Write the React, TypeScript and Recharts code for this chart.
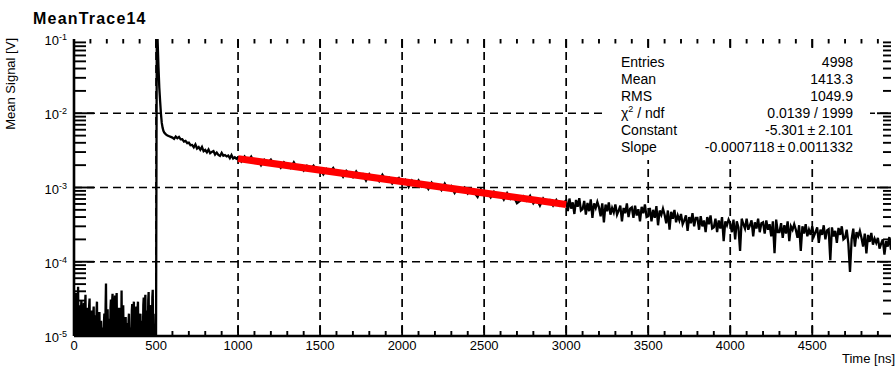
import React from 'react';
import { LineChart, Line, XAxis, YAxis, ReferenceLine } from 'recharts';

const FONT = '"Liberation Sans", Arial, Helvetica, sans-serif';
const W = 895;
const H = 370;

// ---- axes ----
const X_MAX = 4980;
const X_MAJOR = [0, 500, 1000, 1500, 2000, 2500, 3000, 3500, 4000, 4500];
const X_MINOR_STEP = 100;
const Y_DECADES = [1e-5, 1e-4, 1e-3, 1e-2, 1e-1];
const Y_EXPONENTS = ['-5', '-4', '-3', '-2', '-1'];
const Y_MANTISSAS = [1, 2, 3, 4, 5, 6, 7, 8, 9];

// ---- histogram "MeanTrace14" (values in V) ----
// pre-trigger noise, bins every 5 ns from 0 ns
const PRE_T0 = 0;
const PRE_DT = 5;
const PRE_V = [
  4.2e-5, 0.9e-5, 3.8e-5, 2.2e-5, 0.9e-5, 4.6e-5, 1.5e-5, 2.6e-5, 0.9e-5, 3.0e-5,
  1.8e-5, 0.9e-5, 2.8e-5, 0.9e-5, 3.6e-5, 2.0e-5, 0.9e-5, 2.4e-5, 1.2e-5, 3.2e-5,
  0.9e-5, 2.2e-5, 1.4e-5, 0.9e-5, 2.5e-5, 0.9e-5, 1.9e-5, 0.9e-5, 2.9e-5, 1.6e-5,
  0.9e-5, 2.1e-5, 0.9e-5, 1.6e-5, 0.9e-5, 1.3e-5, 0.9e-5, 2.0e-5, 0.9e-5, 5.1e-5,
  1.2e-5, 2.3e-5, 0.9e-5, 1.7e-5, 0.9e-5, 3.1e-5, 0.9e-5, 3.7e-5, 1.9e-5, 0.9e-5,
  3.5e-5, 0.9e-5, 3.8e-5, 1.4e-5, 0.9e-5, 2.4e-5, 0.9e-5, 1.7e-5, 4.1e-5, 0.9e-5,
  2.6e-5, 1.1e-5, 0.9e-5, 1.8e-5, 0.9e-5, 1.5e-5, 0.9e-5, 2.0e-5, 0.9e-5, 1.3e-5,
  0.9e-5, 2.7e-5, 0.9e-5, 2.9e-5, 1.5e-5, 0.9e-5, 2.5e-5, 0.9e-5, 2.9e-5, 1.2e-5,
  0.9e-5, 2.0e-5, 0.9e-5, 1.6e-5, 0.9e-5, 3.3e-5, 1.2e-5, 3.6e-5, 0.9e-5, 2.2e-5,
  0.9e-5, 3.9e-5, 1.4e-5, 0.9e-5, 2.6e-5, 0.9e-5, 4.2e-5, 2.0e-5, 0.9e-5, 1.2e-5,
];
// interleaved pre-trigger bins (offset 2.5 ns)
const PRE2_T0 = 2.5;
const PRE2_DT = 5;
const PRE2_V = [
  0.9e-5, 3.1e-5, 0.9e-5, 0.9e-5, 2.8e-5, 0.9e-5, 2.0e-5, 0.9e-5, 2.2e-5, 0.9e-5,
  0.9e-5, 2.1e-5, 0.9e-5, 2.5e-5, 0.9e-5, 0.9e-5, 1.9e-5, 0.9e-5, 2.6e-5, 0.9e-5,
  1.7e-5, 0.9e-5, 0.9e-5, 2.0e-5, 0.9e-5, 1.5e-5, 0.9e-5, 2.2e-5, 0.9e-5, 0.9e-5,
  1.8e-5, 0.9e-5, 1.2e-5, 0.9e-5, 1.1e-5, 0.9e-5, 1.5e-5, 0.9e-5, 2.4e-5, 0.9e-5,
  1.9e-5, 0.9e-5, 1.3e-5, 0.9e-5, 2.4e-5, 0.9e-5, 2.9e-5, 0.9e-5, 0.9e-5, 2.6e-5,
  0.9e-5, 3.0e-5, 0.9e-5, 0.9e-5, 1.9e-5, 0.9e-5, 1.3e-5, 0.9e-5, 0.9e-5, 2.1e-5,
  0.9e-5, 0.9e-5, 1.4e-5, 0.9e-5, 1.2e-5, 0.9e-5, 1.6e-5, 0.9e-5, 1.1e-5, 0.9e-5,
  2.2e-5, 0.9e-5, 2.3e-5, 0.9e-5, 0.9e-5, 2.0e-5, 0.9e-5, 2.3e-5, 0.9e-5, 0.9e-5,
  1.5e-5, 0.9e-5, 1.3e-5, 0.9e-5, 2.6e-5, 0.9e-5, 2.8e-5, 0.9e-5, 1.7e-5, 0.9e-5,
  3.0e-5, 0.9e-5, 0.9e-5, 2.1e-5, 0.9e-5, 3.3e-5, 0.9e-5, 0.9e-5, 1.0e-5, 0.9e-5,
];

// the pulse
const PULSE_T = [500, 505, 510, 515, 520, 525, 530, 535, 540, 545, 550, 560, 570, 580, 590];
const PULSE_V = [0.9e-5, 0.25, 0.09, 0.042, 0.022, 0.0145, 0.0098, 0.0074, 0.0064, 0.0058, 0.0055, 0.0052, 0.005, 0.0049, 0.0048];

// early tail, bins every 10 ns from 600 ns
const TAIL_A_T0 = 600;
const TAIL_A_DT = 10;
const TAIL_A_V = [
  4.70e-3, 4.52e-3, 4.85e-3, 4.60e-3, 4.80e-3, 4.45e-3, 4.48e-3, 4.15e-3, 4.25e-3, 3.95e-3,
  4.02e-3, 3.72e-3, 3.75e-3, 3.48e-3, 3.80e-3, 3.35e-3, 3.50e-3, 3.22e-3, 3.52e-3, 3.08e-3,
  3.20e-3, 2.98e-3, 3.25e-3, 2.90e-3, 3.02e-3, 3.10e-3, 2.78e-3, 2.95e-3, 2.74e-3, 2.66e-3,
  2.92e-3, 2.68e-3, 2.74e-3, 2.62e-3, 2.70e-3, 2.48e-3, 2.73e-3, 2.46e-3, 2.55e-3, 2.44e-3,
];

// fitted region, bins every 20 ns from 1000 ns
const TAIL_B_T0 = 1000;
const TAIL_B_DT = 20;
const TAIL_B_V = [
  2.54e-3, 2.24e-3, 2.62e-3, 2.27e-3, 2.61e-3, 2.17e-3, 2.38e-3, 1.99e-3, 2.36e-3, 2.13e-3,
  2.38e-3, 2.01e-3, 2.12e-3, 1.85e-3, 2.19e-3, 1.98e-3, 1.83e-3, 2.19e-3, 1.84e-3, 1.96e-3,
  1.69e-3, 1.96e-3, 1.75e-3, 1.96e-3, 1.65e-3, 1.75e-3, 1.50e-3, 1.78e-3, 1.63e-3, 1.83e-3,
  1.53e-3, 1.65e-3, 1.40e-3, 1.68e-3, 1.52e-3, 1.38e-3, 1.64e-3, 1.40e-3, 1.51e-3, 1.24e-3,
  1.51e-3, 1.30e-3, 1.40e-3, 1.22e-3, 1.48e-3, 1.27e-3, 1.36e-3, 1.13e-3, 1.26e-3, 1.35e-3,
  1.13e-3, 1.26e-3, 1.02e-3, 1.24e-3, 1.10e-3, 1.25e-3, 1.03e-3, 1.12e-3, 0.955e-3, 1.16e-3,
  1.02e-3, 1.07e-3, 0.923e-3, 1.13e-3, 0.947e-3, 1.04e-3, 0.843e-3, 0.991e-3, 0.922e-3, 1.00e-3,
  0.833e-3, 0.946e-3, 0.853e-3, 0.746e-3, 0.949e-3, 0.801e-3, 0.864e-3, 0.737e-3, 0.873e-3, 0.764e-3,
  0.824e-3, 0.689e-3, 0.839e-3, 0.699e-3, 0.764e-3, 0.614e-3, 0.663e-3, 0.761e-3, 0.666e-3, 0.774e-3,
  0.613e-3, 0.699e-3, 0.569e-3, 0.712e-3, 0.618e-3, 0.672e-3, 0.570e-3, 0.679e-3, 0.572e-3, 0.612e-3,
];

// late tail, bins every 10 ns from 3000 ns
const TAIL_C_T0 = 3000;
const TAIL_C_DT = 10;
const TAIL_C_V = [
  6.7e-4, 4.8e-4, 7.1e-4, 5.2e-4, 6.3e-4, 4.4e-4, 6.8e-4, 5.5e-4, 7.2e-4, 4.9e-4,
  5.1e-4, 6.6e-4, 4.3e-4, 6.2e-4, 4.8e-4, 6.9e-4, 3.9e-4, 6.1e-4, 5.3e-4, 6.4e-4,
  5.4e-4, 4.1e-4, 6.1e-4, 3.4e-4, 5.9e-4, 4.8e-4, 6.3e-4, 4.3e-4, 5.3e-4, 4.6e-4,
  5.9e-4, 4.3e-4, 4.9e-4, 5.7e-4, 3.5e-4, 5.3e-4, 4.5e-4, 6.1e-4, 4.0e-4, 5.2e-4,
  5.4e-4, 3.9e-4, 5.7e-4, 4.2e-4, 5.1e-4, 3.5e-4, 5.5e-4, 4.5e-4, 5.9e-4, 4.0e-4,
  4.1e-4, 5.3e-4, 3.5e-4, 5.0e-4, 3.9e-4, 5.6e-4, 3.1e-4, 4.9e-4, 4.3e-4, 5.2e-4,
  4.3e-4, 3.3e-4, 4.9e-4, 2.7e-4, 4.7e-4, 3.8e-4, 5.0e-4, 3.4e-4, 4.2e-4, 3.6e-4,
  4.4e-4, 3.2e-4, 3.6e-4, 4.2e-4, 2.6e-4, 4.0e-4, 3.3e-4, 4.5e-4, 3.0e-4, 3.9e-4,
  3.9e-4, 2.7e-4, 4.1e-4, 3.0e-4, 3.6e-4, 2.5e-4, 4.0e-4, 3.2e-4, 4.2e-4, 2.8e-4,
  2.9e-4, 3.8e-4, 2.5e-4, 3.6e-4, 2.8e-4, 4.0e-4, 1.9e-4, 3.5e-4, 3.1e-4, 3.7e-4,
  3.3e-4, 2.5e-4, 3.7e-4, 2.0e-4, 3.5e-4, 2.9e-4, 1.4e-4, 3.8e-4, 3.2e-4, 2.8e-4,
  3.8e-4, 2.7e-4, 3.1e-4, 3.6e-4, 2.2e-4, 3.4e-4, 2.8e-4, 3.8e-4, 2.5e-4, 3.3e-4,
  3.4e-4, 2.4e-4, 3.6e-4, 2.7e-4, 3.2e-4, 2.2e-4, 3.5e-4, 1.3e-4, 3.7e-4, 2.5e-4,
  2.5e-4, 3.3e-4, 2.1e-4, 3.1e-4, 2.4e-4, 3.5e-4, 1.9e-4, 3.0e-4, 2.7e-4, 3.2e-4,
  2.7e-4, 2.1e-4, 3.1e-4, 1.4e-4, 3.0e-4, 2.4e-4, 3.2e-4, 2.2e-4, 2.7e-4, 2.3e-4,
  3.0e-4, 2.2e-4, 2.5e-4, 2.9e-4, 1.8e-4, 2.7e-4, 2.3e-4, 3.1e-4, 2.0e-4, 2.65e-4,
  2.75e-4, 1.05e-4, 2.9e-4, 2.2e-4, 2.6e-4, 1.8e-4, 2.85e-4, 2.3e-4, 3.0e-4, 2.0e-4,
  2.1e-4, 2.7e-4, 1.75e-4, 0.73e-4, 2.0e-4, 2.8e-4, 1.6e-4, 2.5e-4, 2.2e-4, 2.6e-4,
  2.1e-4, 1.6e-4, 2.4e-4, 1.3e-4, 2.3e-4, 1.85e-4, 2.45e-4, 1.7e-4, 2.05e-4, 1.8e-4,
  2.1e-4, 1.5e-4, 1.75e-4, 2.0e-4, 1.25e-4, 1.9e-4, 1.6e-4, 2.15e-4, 1.45e-4,
];

// exponential fit expo(Constant + Slope*x), drawn over the fit range 1000-3000 ns
const FIT_T = [1000, 3000];
const FIT_V = [2.447e-3, 5.91e-4];

// stats box
const STAT_LABELS = ['Entries', 'Mean', 'RMS', 'CHI2', 'Constant', 'Slope'];
const STAT_VALUES = ['4998', '1413.3', '1049.9', '0.0139 / 1999', '-5.301\u2009\u00b1\u20092.101', '-0.0007118\u2009\u00b1\u20090.0011332'];

// ---- build series ----
const seg = (t0: number, dt: number, vals: number[]) => vals.map((v, i) => ({ t: t0 + i * dt, v }));
const HIST = [
  ...[...seg(PRE_T0, PRE_DT, PRE_V), ...seg(PRE2_T0, PRE2_DT, PRE2_V)].sort((a, b) => a.t - b.t),
  ...PULSE_T.map((t, i) => ({ t, v: PULSE_V[i] })),
  ...seg(TAIL_A_T0, TAIL_A_DT, TAIL_A_V),
  ...seg(TAIL_B_T0, TAIL_B_DT, TAIL_B_V),
  ...seg(TAIL_C_T0, TAIL_C_DT, TAIL_C_V),
];
const FIT = FIT_T.map((t, i) => ({ t, v: FIT_V[i] }));

const X_TICKS: number[] = [];
for (let t = 0; t < X_MAX; t += X_MINOR_STEP) X_TICKS.push(t);
const Y_TICKS: number[] = [];
Y_DECADES.forEach((d, di) => {
  Y_MANTISSAS.forEach((m) => {
    if (di < Y_DECADES.length - 1 || m === 1) Y_TICKS.push(m * d);
  });
});

const isDecade = (v: number) => Y_DECADES.findIndex((d) => Math.abs(v / d - 1) < 1e-6);

const AXIS_LINE = { stroke: '#000', strokeWidth: 2.6 };
const GRID_DASH = '8 5';
const GRID_W = 1.7;
const TICK_W = 1.9;

// axis labels only (tick marks are drawn by the reference-line shapes)
const BottomLabel = (p: any) => {
  const { x, y, payload } = p;
  const v = payload.value;
  if (!X_MAJOR.includes(v)) return <g />;
  return (
    <text x={x} y={y + 14} textAnchor="middle" fontSize={13} fontFamily={FONT} fill="#000">
      {v}
    </text>
  );
};

const LeftLabel = (p: any) => {
  const { y, payload } = p;
  const di = isDecade(payload.value);
  if (di < 0) return <g />;
  return (
    <text x={67} y={y + 6} textAnchor="end" fontSize={13} fontFamily={FONT} fill="#000">
      10
      <tspan dy={-5} fontSize={9}>
        {Y_EXPONENTS[di]}
      </tspan>
    </text>
  );
};

// vertical reference line shape: grid (majors) + inward ticks at bottom and top
const xTickShape = (major: boolean) => (p: any) => {
  const x = p.x1;
  const top = Math.min(p.y1, p.y2);
  const bot = Math.max(p.y1, p.y2);
  return (
    <g>
      {major && <line x1={x} x2={x} y1={top} y2={bot} stroke="#000" strokeWidth={GRID_W} strokeDasharray={GRID_DASH} />}
      <line x1={x} x2={x} y1={bot} y2={bot - (major ? 10 : 5)} stroke="#000" strokeWidth={TICK_W} />
      <line x1={x} x2={x} y1={top} y2={top + (major ? 9 : 4.5)} stroke="#000" strokeWidth={TICK_W} />
    </g>
  );
};

// horizontal reference line shape: grid (decades) + inward ticks at left and right
const yTickShape = (major: boolean) => (p: any) => {
  const y = p.y1;
  const left = Math.min(p.x1, p.x2);
  const right = Math.max(p.x1, p.x2);
  return (
    <g>
      {major && <line x1={left} x2={right} y1={y} y2={y} stroke="#000" strokeWidth={GRID_W} strokeDasharray={GRID_DASH} />}
      <line x1={left} x2={left + (major ? 20 : 12)} y1={y} y2={y} stroke="#000" strokeWidth={TICK_W} />
      <line x1={right} x2={right - (major ? 14 : 8)} y1={y} y2={y} stroke="#000" strokeWidth={TICK_W} />
    </g>
  );
};

export default function App() {
  return (
    <div style={{ position: 'absolute', left: 0, top: 0, width: W, height: H, background: '#fff' }}>
      <LineChart width={W} height={H} margin={{ top: 39, right: 4, bottom: 0, left: 0 }}>
        <XAxis
          xAxisId="b"
          dataKey="t"
          type="number"
          domain={[0, X_MAX]}
          allowDataOverflow
          ticks={X_MAJOR}
          interval={0}
          height={34}
          tickSize={0}
          tickMargin={0}
          tickLine={false}
          axisLine={AXIS_LINE}
          tick={(p: any) => <BottomLabel {...p} />}
        />
        <XAxis
          xAxisId="top"
          orientation="top"
          dataKey="t"
          type="number"
          domain={[0, X_MAX]}
          allowDataOverflow
          ticks={X_MAJOR}
          height={0}
          tick={false}
          tickLine={false}
          axisLine={AXIS_LINE}
        />
        <YAxis
          yAxisId="l"
          type="number"
          scale="log"
          domain={[1e-5, 1e-1]}
          allowDataOverflow
          ticks={Y_DECADES}
          interval={0}
          width={74}
          tickSize={0}
          tickMargin={0}
          tickLine={false}
          axisLine={AXIS_LINE}
          tick={(p: any) => <LeftLabel {...p} />}
        />
        <YAxis
          yAxisId="r"
          orientation="right"
          type="number"
          scale="log"
          domain={[1e-5, 1e-1]}
          allowDataOverflow
          ticks={Y_DECADES}
          width={0}
          tick={false}
          tickLine={false}
          axisLine={AXIS_LINE}
        />
        {X_TICKS.filter((v) => v > 0).map((v) => (
          <ReferenceLine
            key={'gx' + v}
            x={v}
            xAxisId="b"
            yAxisId="l"
            stroke="#000"
            shape={xTickShape(X_MAJOR.includes(v))}
          />
        ))}
        {Y_TICKS.filter((v) => v > Y_DECADES[0] * 1.0001 && v < Y_DECADES[Y_DECADES.length - 1] * 0.9999).map((v) => (
          <ReferenceLine
            key={'gy' + v}
            y={v}
            xAxisId="b"
            yAxisId="l"
            stroke="#000"
            shape={yTickShape(isDecade(v) >= 0)}
          />
        ))}
        <Line
          data={HIST}
          xAxisId="b"
          yAxisId="l"
          dataKey="v"
          type="linear"
          stroke="#000"
          strokeWidth={2.3}
          dot={false}
          isAnimationActive={false}
        />
        <Line
          data={FIT}
          xAxisId="b"
          yAxisId="l"
          dataKey="v"
          type="linear"
          stroke="#ff0000"
          strokeWidth={7}
          dot={false}
          isAnimationActive={false}
        />
      </LineChart>
      <svg
        width={W}
        height={H}
        style={{ position: 'absolute', left: 0, top: 0, pointerEvents: 'none' }}
        fontFamily={FONT}
      >
        <text x={33} y={24} fontSize={16} fontWeight="bold" letterSpacing={1.2} fill="#000">
          MeanTrace14
        </text>
        <text x={14.5} y={38} fontSize={13} textAnchor="end" transform="rotate(-90 14.5 38)" fill="#000">
          Mean Signal [V]
        </text>
        <text x={895} y={363} fontSize={13} textAnchor="end" fill="#000">
          Time [ns]
        </text>
        <rect x={605} y={49} width={265} height={111} fill="#fff" />
        {STAT_LABELS.map((lab, i) => (
          <g key={lab}>
            <text x={621} y={66.5 + i * 17} fontSize={14} fill="#000">
              {lab === 'CHI2' ? (
                <>
                  {'\u03c7'}
                  <tspan dy={-6} fontSize={9}>
                    2
                  </tspan>
                  <tspan dy={6}>{' / ndf'}</tspan>
                </>
              ) : (
                lab
              )}
            </text>
            <text x={853} y={66.5 + i * 17} fontSize={14} textAnchor="end" fill="#000">
              {STAT_VALUES[i]}
            </text>
          </g>
        ))}
      </svg>
    </div>
  );
}
